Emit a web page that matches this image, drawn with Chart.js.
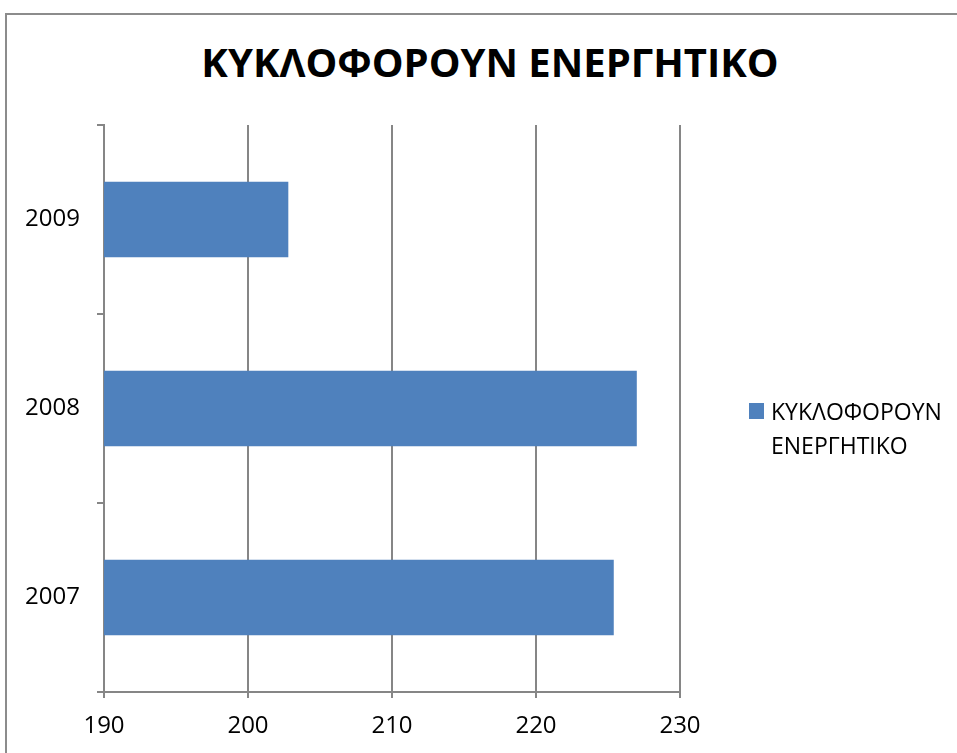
<!DOCTYPE html>
<html>
<head>
<meta charset="utf-8">
<script src="https://cdn.jsdelivr.net/npm/chart.js@4/dist/chart.umd.min.js"></script>
<style>
    body { margin: 0; background: #fff; overflow: hidden; }
    #frame {
        position: absolute; left: 5px; top: 13px;
        width: 960px; height: 750px;
        border-left: 2px solid #8c8c8c; border-top: 2px solid #8c8c8c;
    }
    #wrap { position: absolute; left: 5px; top: 13px; width: 952px; height: 740px; }
    #title {
        position: absolute; left: 0; top: 42px; width: 980px; text-align: center;
        font-family: "Open Sans", sans-serif; font-weight: bold; font-size: 40px; line-height: 40px; color: #000;
    }
    #legend {
        position: absolute; left: 749px; top: 394px;
        font-family: "Open Sans", sans-serif; font-size: 23px; line-height: 34px; color: #000;
    }
    #legend .box {
        position: absolute; left: 0; top: 9px; width: 15px; height: 16px; background: #4f81bd;
    }
    #legend .txt { margin-left: 22px; }
</style>
</head>
<body>
<div id="frame"></div>
<div id="title"></div>
<div id="wrap"><canvas id="chart1"></canvas></div>
<div id="legend"><span class="box"></span><div class="txt" id="legend-text"></div></div>
<script>
// Data
const years = ['2009', '2008', '2007'];
const values = [202.8, 227.0, 225.4];
const xTicks = [190, 200, 210, 220, 230];
const seriesName = 'ΚΥΚΛΟΦΟΡΟΥΝ ΕΝΕΡΓΗΤΙΚΟ';
const titleText = 'ΚΥΚΛΟΦΟΡΟΥΝ ΕΝΕΡΓΗΤΙΚΟ';

const barColor = '#4f81bd';
const axisGray = '#868686';

// Title and legend as HTML; legend text wraps onto two lines like the original
document.getElementById('title').textContent = titleText;
document.getElementById('legend-text').innerHTML = seriesName.split(' ').join('<br>');

const canvas = document.getElementById('chart1');
canvas.width = 952;
canvas.height = 740;

new Chart(canvas.getContext('2d'), {
    type: 'bar',
    data: {
        labels: years,
        datasets: [{
            label: seriesName,
            data: values,
            backgroundColor: barColor,
            borderWidth: 0,
            barPercentage: 0.4,
            categoryPercentage: 1.0
        }]
    },
    options: {
        indexAxis: 'y',
        responsive: false,
        animation: false,
        layout: { padding: { left: 0, right: 277, top: 112, bottom: 0 } },
        plugins: {
            legend: { display: false },
            tooltip: { enabled: false }
        },
        scales: {
            x: {
                min: xTicks[0],
                max: xTicks[xTicks.length - 1],
                afterBuildTicks: scale => { scale.ticks = xTicks.map(v => ({ value: v })); },
                afterFit: scale => { scale.height = 61; },
                grid: { color: axisGray, lineWidth: 2, tickLength: 6 },
                border: { color: axisGray, width: 2 },
                ticks: { color: '#000', padding: 14, font: { family: 'Open Sans', size: 24 } }
            },
            y: {
                afterFit: scale => { scale.width = 99; },
                grid: { color: axisGray, lineWidth: 2, drawOnChartArea: false, tickLength: 7 },
                border: { color: axisGray, width: 2 },
                ticks: { color: '#000', padding: 17, font: { family: 'Open Sans', size: 24 } }
            }
        }
    }
});
</script>
</body>
</html>
